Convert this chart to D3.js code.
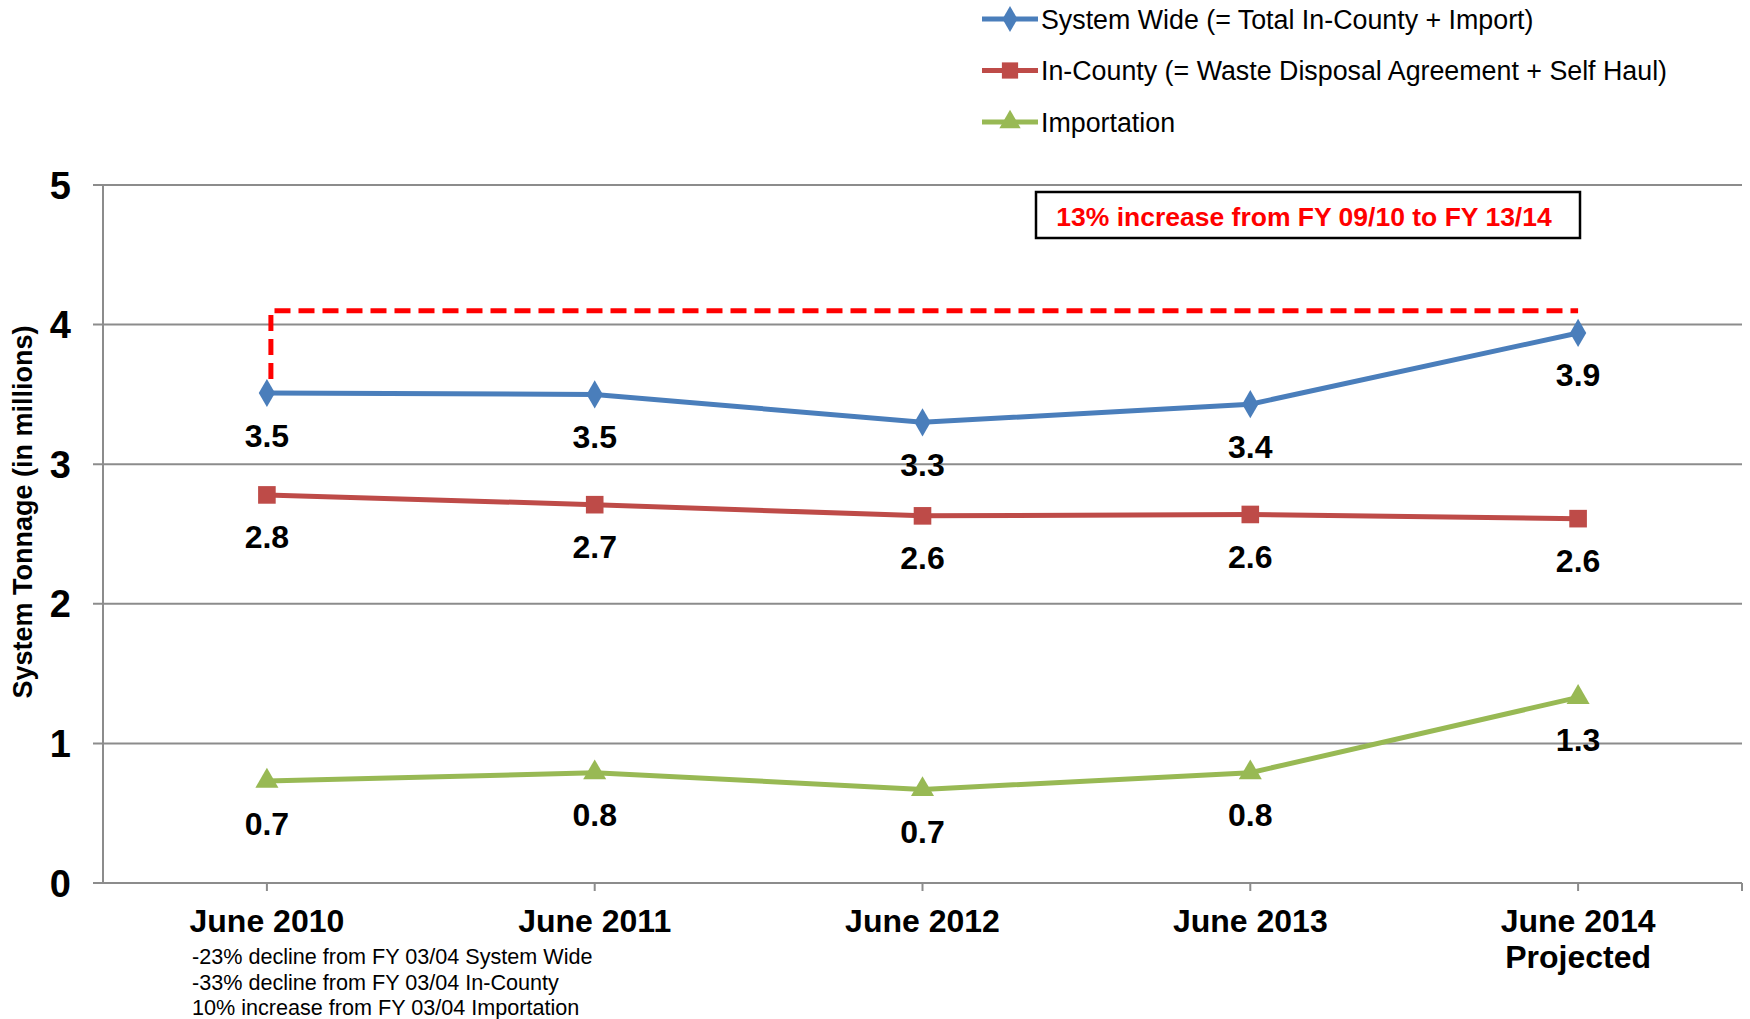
<!DOCTYPE html>
<html>
<head>
<meta charset="utf-8">
<script src="https://cdn.jsdelivr.net/npm/d3@7"></script>
<style>
  body { margin: 0; background: #fff; }
  text { font-family: "Liberation Sans", Arial, sans-serif; }
</style>
</head>
<body>
<div id="chart"></div>
<script>
// categories and series values (millions of tons)
var categories = ["June 2010", "June 2011", "June 2012", "June 2013", "June 2014"];
var systemWide = [3.51, 3.50, 3.30, 3.43, 3.94];
var inCounty   = [2.78, 2.71, 2.63, 2.64, 2.61];
var importation = [0.73, 0.79, 0.67, 0.79, 1.33];
var yTicks = [0, 1, 2, 3, 4, 5];
var seriesNames = ["System Wide (= Total In-County + Import)",
                   "In-County (= Waste Disposal Agreement + Self Haul)",
                   "Importation"];
var footnotes = ["-23% decline from FY 03/04 System Wide",
                 "-33% decline from FY 03/04 In-County",
                 "10% increase from FY 03/04 Importation"];
var annotationText = "13% increase from FY 09/10 to FY 13/14";
var annotationLevel = 4.1;

var W = 1750, H = 1019;
var margin = {top: 185, right: 8, bottom: 136, left: 103};
var width = W - margin.left - margin.right,
    height = H - margin.top - margin.bottom;

var svg = d3.select("#chart").append("svg")
    .attr("width", W)
    .attr("height", H);

var g = svg.append("g")
    .attr("transform", "translate(" + margin.left + "," + margin.top + ")");

// scales
var x = d3.scaleBand().domain(categories).range([0, width]).padding(0);
var y = d3.scaleLinear().domain([0, 5]).range([height, 0]);
function cx(c) { return x(c) + x.bandwidth() / 2; }

// gridlines
g.selectAll("line.grid")
    .data(yTicks)
    .enter().append("line")
    .attr("class", "grid")
    .attr("x1", -10).attr("x2", width)
    .attr("y1", function(d) { return y(d); })
    .attr("y2", function(d) { return y(d); })
    .style("stroke", "#8c8c8c")
    .style("stroke-width", 2);

// y axis line
g.append("line")
    .attr("x1", 0).attr("x2", 0)
    .attr("y1", 0).attr("y2", height)
    .style("stroke", "#8c8c8c")
    .style("stroke-width", 2);

// y tick labels
g.selectAll("text.ytick")
    .data(yTicks)
    .enter().append("text")
    .attr("class", "ytick")
    .attr("x", -32)
    .attr("y", function(d) { return y(d); })
    .attr("dy", "0.36em")
    .attr("text-anchor", "end")
    .style("font-size", "38px")
    .style("font-weight", "bold")
    .text(function(d) { return d; });

// x axis ticks (category centers + right end)
var xTickPos = categories.map(cx).concat([width]);
g.selectAll("line.xtick")
    .data(xTickPos)
    .enter().append("line")
    .attr("class", "xtick")
    .attr("x1", function(d) { return d; })
    .attr("x2", function(d) { return d; })
    .attr("y1", height).attr("y2", height + 8)
    .style("stroke", "#8c8c8c")
    .style("stroke-width", 2);

// x labels
g.selectAll("text.xlab")
    .data(categories)
    .enter().append("text")
    .attr("class", "xlab")
    .attr("x", function(d) { return cx(d); })
    .attr("y", height + 49)
    .attr("text-anchor", "middle")
    .style("font-size", "32px")
    .style("font-weight", "bold")
    .text(function(d) { return d; });

g.append("text")
    .attr("x", cx(categories[4]))
    .attr("y", height + 85)
    .attr("text-anchor", "middle")
    .style("font-size", "32px")
    .style("font-weight", "bold")
    .text("Projected");

// y title
svg.append("text")
    .attr("transform", "translate(32,512) rotate(-90)")
    .attr("text-anchor", "middle")
    .style("font-size", "27px")
    .style("font-weight", "bold")
    .text("System Tonnage (in millions)");

// footnotes
svg.selectAll("text.foot")
    .data(footnotes)
    .enter().append("text")
    .attr("class", "foot")
    .attr("x", 192)
    .attr("y", function(d, i) { return 964 + i * 25.7; })
    .style("font-size", "21.6px")
    .text(function(d) { return d; });

// red dashed annotation line
var dashLine = d3.line()
    .x(function(d) { return d[0]; })
    .y(function(d) { return y(d[1]); });
g.append("path")
    .datum([[cx(categories[0]) + 4, 3.61], [cx(categories[0]) + 4, annotationLevel], [cx(categories[4]), annotationLevel]])
    .attr("d", dashLine)
    .style("fill", "none")
    .style("stroke", "#ff0000")
    .style("stroke-width", 5)
    .style("stroke-dasharray", "16,8");

// annotation box
var boxX = 1036 - margin.left, boxY = 192 - margin.top;
g.append("rect")
    .attr("x", boxX).attr("y", boxY)
    .attr("width", 544).attr("height", 46)
    .style("fill", "#fff")
    .style("stroke", "#000")
    .style("stroke-width", 2.5);
g.append("text")
    .attr("x", boxX + 268)
    .attr("y", boxY + 24)
    .attr("dy", "0.36em")
    .attr("text-anchor", "middle")
    .style("font-size", "26.5px")
    .style("font-weight", "bold")
    .style("fill", "#ff0000")
    .text(annotationText);

// series
var series = [
  {name: seriesNames[0], values: systemWide, color: "#4a7ebb", symbol: d3.symbolDiamond, size: 230},
  {name: seriesNames[1], values: inCounty, color: "#be4b48", symbol: d3.symbolSquare, size: 310},
  {name: seriesNames[2], values: importation, color: "#98b954", symbol: d3.symbolTriangle, size: 230}
];

var valueline = d3.line()
    .x(function(d, i) { return cx(categories[i]); })
    .y(function(d) { return y(d); });

series.forEach(function(s) {
    g.append("path")
        .datum(s.values)
        .attr("d", valueline)
        .style("fill", "none")
        .style("stroke", s.color)
        .style("stroke-width", 5);

    g.selectAll(null)
        .data(s.values)
        .enter().append("path")
        .attr("d", d3.symbol().type(s.symbol).size(s.size))
        .attr("transform", function(d, i) {
            return "translate(" + cx(categories[i]) + "," + y(d) + ")";
        })
        .style("fill", s.color);

    g.selectAll(null)
        .data(s.values)
        .enter().append("text")
        .attr("x", function(d, i) { return cx(categories[i]); })
        .attr("y", function(d) { return y(d) + 42; })
        .attr("dy", "0.36em")
        .attr("text-anchor", "middle")
        .style("font-size", "32px")
        .style("font-weight", "bold")
        .text(function(d) { return d3.format(".1f")(Math.floor(d * 10 + 0.5) / 10); });
});

// legend
var legend = svg.selectAll("g.legend")
    .data(series)
    .enter().append("g")
    .attr("class", "legend")
    .attr("transform", function(d, i) { return "translate(982," + (19 + i * 51.5) + ")"; });

legend.append("line")
    .attr("x1", 0).attr("x2", 56)
    .attr("y1", 0).attr("y2", 0)
    .style("stroke", function(d) { return d.color; })
    .style("stroke-width", 5);

legend.append("path")
    .attr("d", function(d) { return d3.symbol().type(d.symbol).size(d.size * 0.85)(); })
    .attr("transform", "translate(28,0)")
    .style("fill", function(d) { return d.color; });

legend.append("text")
    .attr("x", 59)
    .attr("dy", "0.36em")
    .style("font-size", "26.8px")
    .text(function(d) { return d.name; });
</script>
</body>
</html>
